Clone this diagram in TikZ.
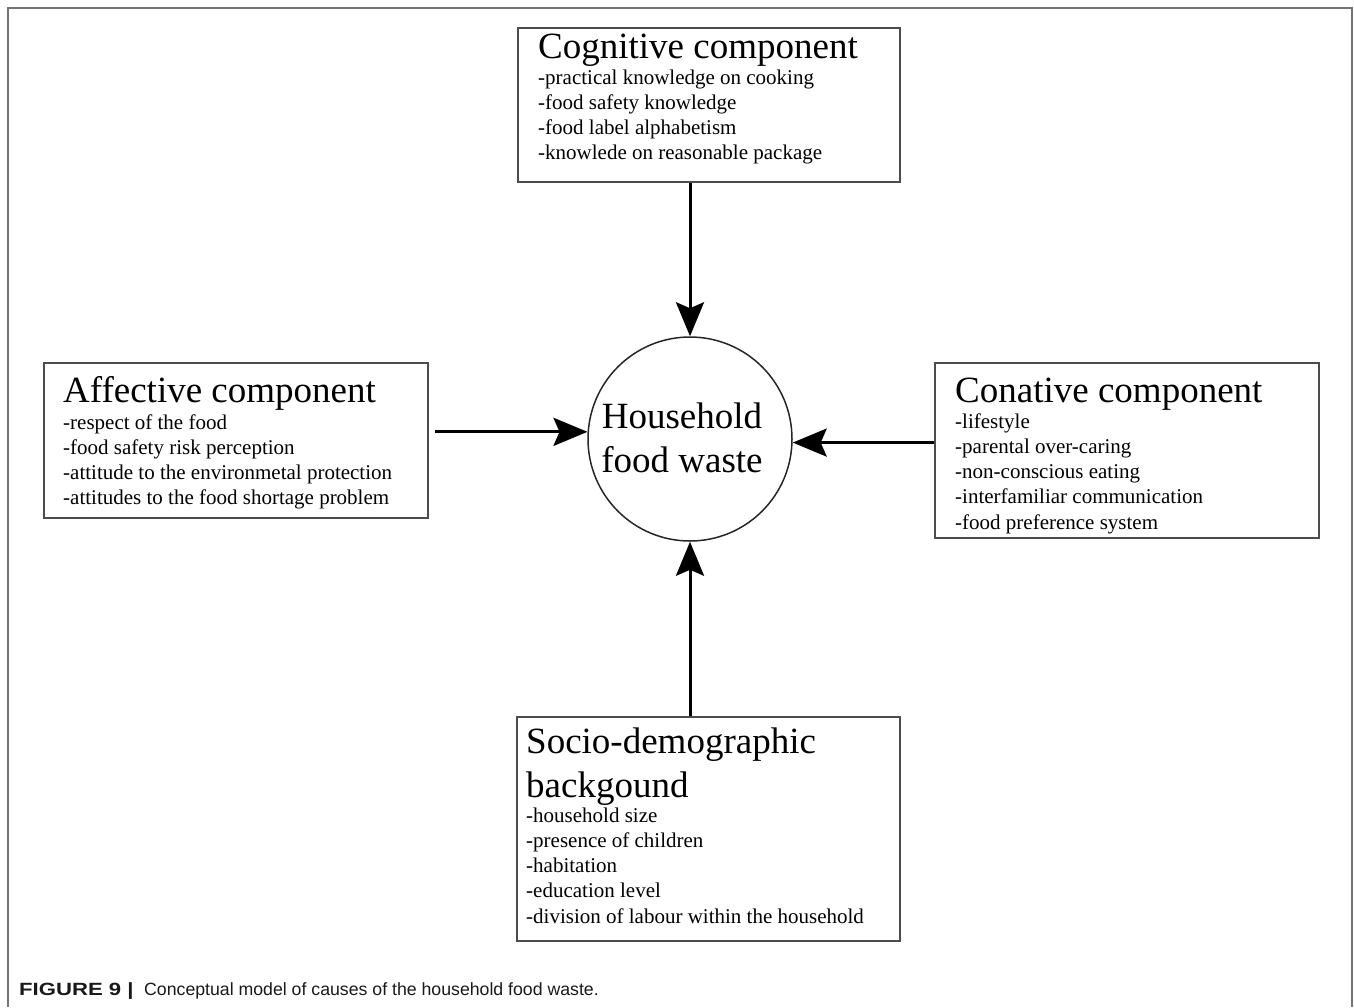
\documentclass[tikz,border=0pt]{standalone}
\usepackage{fontspec}
\usepackage{graphicx}
\setmainfont{Liberation Serif}
\newfontfamily\capfont{Liberation Sans}
\usetikzlibrary{arrows.meta}
\begin{document}
\begin{tikzpicture}[x=1pt,y=-1pt,
  panel/.style={draw=black!70, line width=2pt, fill=white, anchor=north west, inner sep=0pt},
  head/.style={anchor=base west, inner sep=0pt, font=\fontsize{37}{44}\selectfont},
  item/.style={anchor=base west, inner sep=0pt, font=\fontsize{21}{25}\selectfont},
  flow/.style={line width=3pt, -{Stealth[length=34pt,width=28pt,inset=6pt]}},
  captext/.style={anchor=base west, inner sep=0pt, text=black!90},
]
\useasboundingbox (0,0) rectangle (1354,1007);
% open frame around the figure
\draw[black!55, line width=2pt] (8,1007) -- (8,8) -- (1352,8) -- (1352,1007);

% the four groups of causes
\node[panel, minimum width=382pt, minimum height=154pt] (cog) at (517,27) {};
\node[panel, minimum width=384pt, minimum height=155pt] (aff) at (43,362) {};
\node[panel, minimum width=384pt, minimum height=175pt] (con) at (934,362) {};
\node[panel, minimum width=383pt, minimum height=224pt] (soc) at (516,716) {};

% central outcome
\node[draw=black!85, line width=1.5pt, circle, minimum size=204pt, inner sep=0pt] (hfw) at (690,439) {};
\node[head, anchor=base] (hfw-1) at (682,428) {Household};
\node[head, anchor=base] (hfw-2) at (682,472) {food waste};

% cognitive
\node[head] (cog-t) at (538,58) {Cognitive component};
\foreach \s [count=\i] in {-practical knowledge on cooking, -food safety knowledge,
    -food label alphabetism, -knowlede on reasonable package}
  \node[item] (cog-\i) at (538,{84.5+25*(\i-1)}) {\s};

% affective
\node[head] (aff-t) at (63,402) {Affective component};
\foreach \s [count=\i] in {-respect of the food, -food safety risk perception,
    -attitude to the environmetal protection, -attitudes to the food shortage problem}
  \node[item] (aff-\i) at (63,{429+25*(\i-1)}) {\s};

% conative
\node[head] (con-t) at (955,402) {Conative component};
\foreach \s [count=\i] in {-lifestyle, -parental over-caring, -non-conscious eating,
    -interfamiliar communication, -food preference system}
  \node[item] (con-\i) at (955,{428+25.3*(\i-1)}) {\s};

% socio-demographic
\node[head] (soc-t1) at (526,753) {Socio-demographic};
\node[head] (soc-t2) at (526,797) {backgound};
\foreach \s [count=\i] in {-household size, -presence of children, -habitation,
    -education level, -division of labour within the household}
  \node[item] (soc-\i) at (526,{822+25.3*(\i-1)}) {\s};

% influences
\draw[flow] (cog.south -| hfw.north) -- (hfw.north);
\draw[flow] (soc.north -| hfw.south) -- (hfw.south);
\draw[flow] ([xshift=6pt]aff.east |- hfw.176.6) -- (hfw.176.6);
\draw[flow] (con.west |- hfw.358.9) -- (hfw.358.9);

% caption
\node[captext, font=\capfont\bfseries\fontsize{17.7}{20}\selectfont] (cap-a) at (19,995)
  {\scalebox{1.25}[1]{FIGURE 9 |}};
\node[captext, font=\capfont\fontsize{17.7}{20}\selectfont] (cap-b) at (144,995)
  {Conceptual model of causes of the household food waste.};
\end{tikzpicture}
\end{document}
